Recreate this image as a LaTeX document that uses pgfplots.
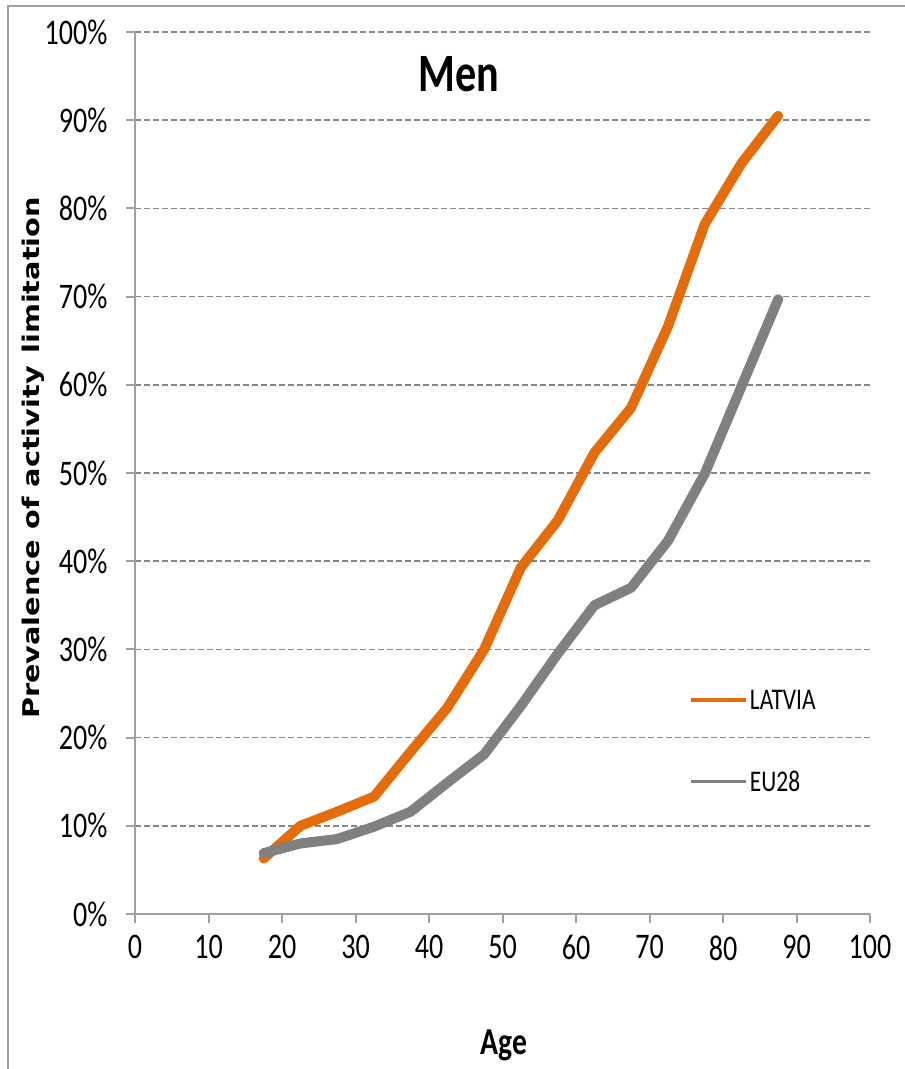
\documentclass[border=0pt]{standalone}
\usepackage{fontspec}
\setmainfont[FakeStretch=0.78]{Carlito}
\newfontfamily\ylabfont[FakeStretch=1.25]{DejaVu Sans}
\usepackage{pgfplots}
\pgfplotsset{compat=1.18}
\definecolor{lv}{HTML}{E46C0A}
\definecolor{eu}{HTML}{808080}
\definecolor{axgray}{HTML}{A0A0A0}
\definecolor{gridgray}{HTML}{868686}
\begin{document}
\begin{tikzpicture}
\begin{axis}[
  scale only axis, width=735pt, height=882pt,
  xmin=0, xmax=100, ymin=0, ymax=100,
  xtick={0,10,...,100}, ytick={0,10,...,100},
  axis x line*=bottom, axis y line*=left,
  axis line style={axgray, line width=2pt},
  tick style={axgray, line width=2pt},
  tick align=outside, major tick length=9pt,
  ymajorgrids,
  grid style={gridgray, line width=1.6pt, dash pattern=on 6pt off 3pt},
  /pgf/number format/assume math mode=true,
  ticklabel style={font=\fontsize{36}{40}\selectfont},
  yticklabel={\pgfmathprintnumber{\tick}\%},
  yticklabel style={xshift=-15pt},
  xticklabel style={yshift=-9pt},
  clip=false,
  legend style={draw=none, fill=none, at={(rel axis cs:0.75,0.259)}, anchor=north west,
    font=\fontsize{30}{34}\selectfont, row sep=56pt, legend cell align=left},
  legend image code/.code={\draw[#1, line width=3.5pt, line cap=butt] (0pt,0pt) -- (55pt,0pt);},
]
\addplot[lv, line width=10pt, line cap=round, line join=round] coordinates {
 (17.5,6.3) (22.5,10.0) (27.5,11.6) (32.5,13.3) (37.5,18.4) (42.5,23.4) (47.5,30.0)
 (52.5,39.3) (57.5,44.6) (62.5,52.3) (67.5,57.4) (72.5,66.6) (77.5,78.2) (82.5,85.1) (87.5,90.5)};
\addlegendentry{LATVIA}
\addplot[eu, line width=10pt, line cap=round, line join=round] coordinates {
 (17.5,6.9) (22.5,8.0) (27.5,8.5) (32.5,9.9) (37.5,11.6) (42.5,14.9) (47.5,18.1)
 (52.5,23.6) (57.5,29.5) (62.5,35.0) (67.5,37.0) (72.5,42.3) (77.5,49.9) (82.5,59.8) (87.5,69.7)};
\addlegendentry{EU28}
\node[font=\bfseries\fontsize{54}{60}\selectfont] at (rel axis cs:0.441,0.952) {Men};
\node[rotate=90, font=\ylabfont\bfseries\fontsize{23}{26}\selectfont] at (rel axis cs:-0.1388,0.517) {Prevalence of activity\hspace{0.55em}limitation};
\node[font=\bfseries\fontsize{38}{42}\selectfont] at (rel axis cs:0.502,-0.1485) {Age};
\draw[axgray, line width=2.5pt] (rel axis cs:-0.1728,-0.25) -- (rel axis cs:-0.1728,1.0295) -- (rel axis cs:1.1,1.0295);
\coordinate (bl) at (rel axis cs:-0.1837,-0.1757);
\coordinate (tr) at (rel axis cs:1.0463,1.0363);
\end{axis}
\pgfresetboundingbox
\useasboundingbox (bl) rectangle (tr);
\end{tikzpicture}
\end{document}
